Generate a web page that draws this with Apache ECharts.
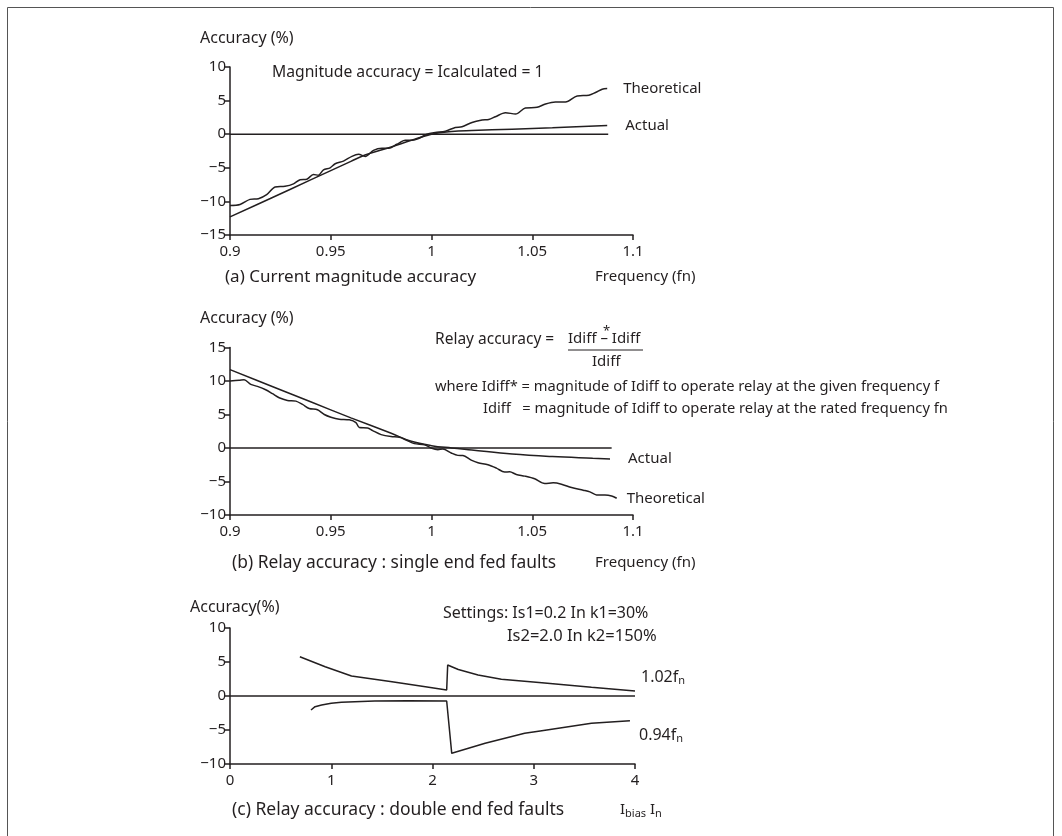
<!DOCTYPE html>
<html>
<head>
<meta charset="utf-8">
<script src="https://cdn.jsdelivr.net/npm/echarts@6/dist/echarts.min.js"></script>
<style>
  html, body { margin: 0; padding: 0; background: #fff; }
  #chart { width: 1062px; height: 836px; }
</style>
</head>
<body>
<div id="chart"></div>
<script>
// (a) current magnitude accuracy, frequency in fn, accuracy in %
const freqThA = [0.9000,0.9050,0.9099,0.9141,0.9182,0.9224,0.9273,0.9315,0.9348,0.9381,0.9414,0.9439,0.9464,0.9497,0.9522,0.9563,0.9605,0.9638,0.9671,0.9712,0.9754,0.9787,0.9828,0.9870,0.9903,0.9936,0.9977,1.0019,1.0069,1.0118,1.0151,1.0201,1.0251,1.0284,1.0317,1.0367,1.0417,1.0466,1.0524,1.0566,1.0615,1.0665,1.0723,1.0781,1.0814,1.0847,1.0872];
const accThA = [-10.6,-10.45,-9.7,-9.6,-9.0,-7.86,-7.76,-7.4,-6.77,-6.7,-6.0,-6.1,-5.3,-5.0,-4.4,-4.0,-3.3,-3.0,-3.3,-2.4,-2.1,-2.1,-1.5,-0.9,-0.9,-0.65,0,0.25,0.45,1.0,1.1,1.75,2.1,2.2,2.6,3.2,3.0,3.9,4.0,4.5,4.8,4.8,5.7,5.8,6.2,6.7,6.8];
const freqAcA = [0.9,0.92,0.94,0.96,0.967,0.98,0.99,1.0,1.01,1.02,1.04,1.06,1.0872];
const accAcA = [-12.3,-9.57,-6.8,-4.05,-3.1,-1.9,-0.9,0,0.4,0.55,0.75,0.95,1.3];
const zeroA = [0.9,1.0877];

// (b) relay accuracy, single end fed faults
const freqThB = [0.9,0.9045,0.907,0.9103,0.9136,0.9177,0.9211,0.9244,0.9285,0.9327,0.936,0.9393,0.9434,0.9468,0.9501,0.9542,0.9592,0.9625,0.9642,0.9683,0.9708,0.975,0.9799,0.9841,0.9874,0.9915,0.9965,0.9998,1.0032,1.0056,1.0098,1.0131,1.0156,1.0197,1.0231,1.028,1.0322,1.0363,1.0388,1.0421,1.0463,1.0512,1.0562,1.0604,1.0645,1.0695,1.0753,1.0786,1.0819,1.0861,1.0894,1.0919];
const accThB = [10.0,10.1,10.2,9.5,9.2,8.7,8.1,7.5,7.1,7.0,6.5,5.9,5.7,5.0,4.6,4.3,4.2,3.8,3.05,3.0,2.6,2.0,1.7,1.6,1.2,0.65,0.5,0,-0.25,-0.15,-0.75,-1.1,-1.13,-1.8,-2.2,-2.5,-3.0,-3.6,-3.55,-3.95,-4.2,-4.6,-5.3,-5.2,-5.4,-5.9,-6.3,-6.55,-7.0,-7.0,-7.15,-7.5];
const freqAcB = [0.9,0.92,0.94,0.96,0.98,0.99,1.0,1.01,1.02,1.04,1.06,1.08,1.0886];
const accAcB = [11.7,9.3,6.9,4.5,2.2,1.0,0.35,0.0,-0.3,-0.9,-1.28,-1.53,-1.63];
const zeroB = [0.9,1.0894];

// (c) relay accuracy, double end fed faults, bias current in In
const biasHi = [0.69,0.94,1.2,1.6,1.93,2.14,2.15,2.19,2.255,2.45,2.68,3.08,3.57,4.0];
const accHi = [5.78,4.3,2.94,2.1,1.37,0.88,4.56,4.31,3.9,3.1,2.45,1.96,1.27,0.74];
const biasLo = [0.8,0.84,0.905,1.0,1.1,1.43,1.76,2.14,2.19,2.52,2.91,3.08,3.57,3.95];
const accLo = [-2.06,-1.57,-1.32,-1.08,-0.93,-0.74,-0.69,-0.74,-8.43,-6.96,-5.49,-5.1,-4.0,-3.63];
const zeroC = [0,4.0];

const TXT = '#231f20';
const FONT = '"Noto Sans", sans-serif';

const zip = (xs, ys) => xs.map((x, i) => [x, ys[i]]);
const fmtFreq = v => String(Math.round(v * 100) / 100);

const xAx = (grid, min, max, interval, formatter) => ({
    type: 'value', gridIndex: grid, min, max, interval,
    axisLine: {show: true, onZero: false, lineStyle: {color: TXT, width: 1.5}},
    axisTick: {show: true, length: 5, lineStyle: {color: TXT, width: 1.5}},
    axisLabel: {color: TXT, fontSize: 15, fontFamily: FONT, margin: 9, formatter},
    splitLine: {show: false}
});
const yAx = (grid, min, max) => ({
    type: 'value', gridIndex: grid, min, max, interval: 5,
    axisLine: {show: true, onZero: false, lineStyle: {color: TXT, width: 1.5}},
    axisTick: {show: true, length: 5, lineStyle: {color: TXT, width: 1.5}},
    axisLabel: {color: TXT, fontSize: 15, fontFamily: FONT, margin: 4,
        formatter: v => (v < 0 ? '\u2212' + (-v) : String(v))},
    splitLine: {show: false}
});

const line = (grid, data, label, dist, smooth) => ({
    type: 'line', xAxisIndex: grid, yAxisIndex: grid, data,
    showSymbol: false, symbol: 'none', smooth: smooth || false, silent: true,
    lineStyle: {color: TXT, width: 1.5},
    endLabel: label ? {show: true, formatter: label, distance: dist, color: TXT, fontSize: 15, fontFamily: FONT} : {show: false}
});

const txt = (x, y, text, size, extra) => ({
    type: 'text', x, y, silent: true,
    style: Object.assign({text, fill: TXT, font: (size || 15) + 'px ' + FONT, verticalAlign: 'middle', align: 'left'}, extra || {})
});
const sub = {s: {fontSize: 11, fontFamily: FONT, fill: TXT, padding: [8, 0, 0, 0]}};

const chart = echarts.init(document.getElementById('chart'));
chart.setOption({
    animation: false,
    backgroundColor: '#fff',
    grid: [
        {left: 230, top: 67, width: 403, height: 168, outerBoundsMode: 'none'},
        {left: 230, top: 347.5, width: 403, height: 167.5, outerBoundsMode: 'none'},
        {left: 230, top: 628, width: 405, height: 136, outerBoundsMode: 'none'}
    ],
    xAxis: [
        xAx(0, 0.9, 1.1, 0.05, fmtFreq),
        xAx(1, 0.9, 1.1, 0.05, fmtFreq),
        xAx(2, 0, 4, 1)
    ],
    yAxis: [yAx(0, -15, 10), yAx(1, -10, 15), yAx(2, -10, 10)],
    series: [
        line(0, zip(zeroA, [0, 0])),
        line(0, zip(freqThA, accThA), 'Theoretical', 16, 0.3),
        line(0, zip(freqAcA, accAcA), 'Actual', 18, 0.4),
        line(1, zip(zeroB, [0, 0])),
        line(1, zip(freqAcB, accAcB), 'Actual', 18, 0.4),
        line(1, zip(freqThB, accThB), 'Theoretical', 10, 0.3),
        line(2, zip(zeroC, [0, 0])),
        line(2, zip(biasHi, accHi)),
        line(2, zip(biasLo, accLo))
    ],
    graphic: [
        {type: 'polyline', silent: true, shape: {points: [[7.5, 836], [7.5, 7.5], [1053.5, 7.5], [1053.5, 836]]},
            style: {stroke: '#555', lineWidth: 1, fill: null}},
        // (a)
        txt(200, 38, 'Accuracy (%)', 16),
        txt(272, 73, 'Magnitude accuracy = Icalculated = 1', 15.7),
        txt(225, 277, '(a) Current magnitude accuracy', 17),
        txt(595, 277, 'Frequency (fn)'),
        // (b)
        txt(200, 318, 'Accuracy (%)', 16),
        txt(435, 340, 'Relay accuracy =', 15.5),
        txt(568, 339, 'Idiff \u2013 Idiff', 15),
        txt(603, 331, '*', 13),
        {type: 'line', silent: true, shape: {x1: 568, y1: 350, x2: 643, y2: 350}, style: {stroke: TXT, lineWidth: 1}},
        txt(592, 362, 'Idiff', 15),
        txt(435, 387, 'where Idiff* = magnitude of Idiff to operate relay at the given frequency f', 14.7),
        txt(483, 409, 'Idiff   = magnitude of Idiff to operate relay at the rated frequency fn', 14.7),
        txt(232, 563, '(b) Relay accuracy : single end fed faults', 17.4),
        txt(595, 563, 'Frequency (fn)'),
        // (c)
        txt(190, 607, 'Accuracy(%)', 16),
        txt(443, 613, 'Settings: Is1=0.2 In k1=30%', 16),
        txt(507, 636, 'Is2=2.0 In k2=150%', 16.5),
        txt(641, 677, '1.02f{s|n}', 16, {rich: sub}),
        txt(639, 735, '0.94f{s|n}', 16, {rich: sub}),
        txt(232, 810, '(c) Relay accuracy : double end fed faults', 17.5),
        txt(620, 810, 'I{s|bias} I{s|n}', 15, {rich: sub})
    ]
});
</script>
</body>
</html>
